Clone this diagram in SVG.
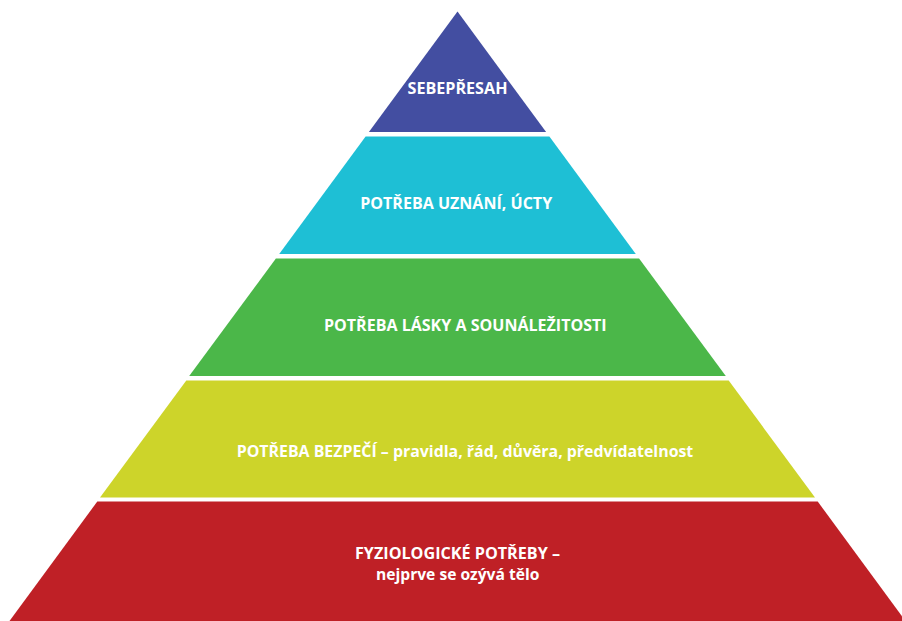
<svg xmlns="http://www.w3.org/2000/svg" width="902" height="621" viewBox="0 0 902 621">
<style>
.t{font-family:"Open Sans","Liberation Sans",sans-serif;font-weight:700;font-size:15.5px;fill:#ffffff;text-anchor:middle}
</style>
<rect width="902" height="621" fill="#ffffff"/>
<g id="level5-selfactualization">
<polygon points="457.5,11.5 546.1,132 368.9,132" fill="#434ea1"/>
<text class="t" x="457.5" y="94" textLength="100" lengthAdjust="spacingAndGlyphs">SEBEPŘESAH</text>
</g>
<g id="level4-esteem">
<polygon points="365.6,136.5 549.4,136.5 635.8,254 279.2,254" fill="#1ebfd5"/>
<text class="t" x="456.2" y="209" textLength="192" lengthAdjust="spacingAndGlyphs">POTŘEBA UZNÁNÍ, ÚCTY</text>
</g>
<g id="level3-love">
<polygon points="275.9,258.5 639.1,258.5 725.8,376 189.2,376" fill="#4bb749"/>
<text class="t" x="465.3" y="330.7" textLength="282.7" lengthAdjust="spacingAndGlyphs">POTŘEBA LÁSKY A SOUNÁLEŽITOSTI</text>
</g>
<g id="level2-safety">
<polygon points="186.3,380.5 728.7,380.5 815,497.5 100,497.5" fill="#cdd42a"/>
<text class="t" x="465" y="457.3" textLength="456.6" lengthAdjust="spacingAndGlyphs">POTŘEBA BEZPEČÍ – pravidla, řád, důvěra, předvídatelnost</text>
</g>
<g id="level1-physiological">
<polygon points="97.3,501.5 817.7,501.5 905.5,621 9.5,621" fill="#bf2026"/>
<text class="t" x="457.5" y="559.3" textLength="205" lengthAdjust="spacingAndGlyphs">FYZIOLOGICKÉ POTŘEBY –</text>
<text class="t" x="457.7" y="580" textLength="163.3" lengthAdjust="spacingAndGlyphs">nejprve se ozývá tělo</text>
</g>
<g id="connectors"></g>
</svg>
